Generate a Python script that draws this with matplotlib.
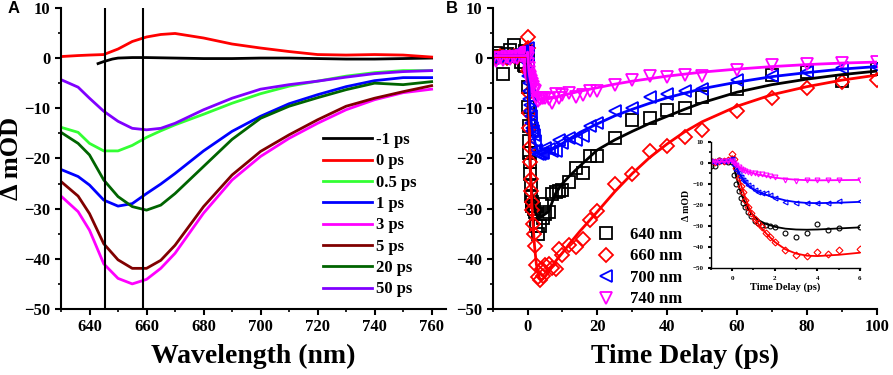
import numpy as np
import matplotlib
matplotlib.use("Agg")
import matplotlib.pyplot as plt
from matplotlib.ticker import MultipleLocator

plt.rcParams["font.family"] = "Liberation Serif"
plt.rcParams["font.weight"] = "bold"
plt.rcParams["axes.labelweight"] = "bold"

# ---- panel A: transient spectra ----
wl = [630, 636, 640, 645, 650, 655, 660, 665, 670, 680, 690, 700, 710, 720, 730, 740, 750, 760]
wl_m1 = [643, 645, 648, 650, 655, 660, 670, 680, 690, 700, 710, 720, 730, 740, 750, 760]
spec_m1 = [-1.1, -0.7, -0.2, 0.0, 0.1, 0.1, 0.0, -0.1, -0.1, 0.0, 0.0, -0.1, -0.2, -0.2, -0.1, 0.0]
spec_0 = [0.3, 0.5, 0.6, 0.7, 1.8, 3.3, 4.2, 4.7, 4.9, 4.0, 2.8, 2.0, 1.3, 0.7, 0.6, 0.7, 0.6, 0.2]
spec_05 = [-13.8, -14.8, -17.0, -18.5, -18.5, -17.4, -15.8, -14.5, -13.3, -11.2, -9.0, -7.1, -5.6, -4.6, -3.6, -2.9, -2.5, -2.5]
spec_1 = [-22.2, -23.6, -25.3, -28.3, -29.5, -29.0, -27.0, -25.1, -23.0, -18.5, -14.6, -11.6, -9.1, -7.3, -5.7, -4.5, -3.9, -3.9]
spec_3 = [-27.5, -30.6, -34.3, -41.0, -43.9, -45.0, -44.1, -41.9, -38.9, -30.9, -24.3, -19.6, -16.0, -13.0, -10.3, -8.3, -6.9, -6.2]
spec_5 = [-24.6, -27.5, -31.0, -37.0, -40.2, -41.9, -41.9, -40.3, -37.3, -29.6, -23.3, -18.6, -15.3, -12.3, -9.6, -8.0, -6.7, -5.5]
spec_20 = [-14.8, -17.0, -19.3, -24.3, -27.6, -29.6, -30.3, -29.3, -27.0, -21.6, -16.2, -12.0, -9.6, -7.9, -6.3, -5.0, -5.3, -4.7]
spec_50 = [-4.3, -5.8, -8.0, -10.6, -12.6, -14.0, -14.3, -14.0, -13.0, -10.3, -8.0, -6.2, -5.3, -4.6, -3.8, -3.1, -2.7, -2.5]
marker_wl = [645.3, 658.8]

# ---- panel B: kinetics ----
t_pts = [-10, -9, -8, -7, -6, -5, -4, -3, -2, -1, -0.8, -0.6, -0.4, -0.2,
         0, 0.1, 0.2, 0.3, 0.4, 0.5, 0.6, 0.75, 0.9, 1.05, 1.2, 1.4, 1.6, 1.8, 2,
         2.5, 3, 3.5, 4, 4.5, 5, 6, 7, 8, 9, 10, 12, 14, 16, 18, 20,
         25, 30, 35, 40, 45, 50, 60, 70, 80, 90, 100]
k640 = [0.5, 1.0, 0.3, -3.1, 0.8, 1.7, 2.7, 0.5, -0.7, -1.3, -1.5, 1.5, 1.0, 0.5,
        0.5, -5.8, -9.8, -13.5, -16.5, -19.0, -20.8, -23.2, -25.2, -27.5, -28.7, -29.5, -29.5, -30.0, -30.6,
        -33.4, -35.0, -33.4, -29.0, -31.8, -31.0, -30.6, -27.0, -26.6, -26.5, -26.3, -24.6, -22.0, -23.0, -19.5, -19.5,
        -16.0, -12.4, -12.0, -10.3, -10.0, -7.7, -6.2, -3.3, -2.7, -4.5, -2.2]
k660 = [0.3, 0.0, 0.5, 0.2, 0.0, 0.3, 0.5, 0.2, 0.8, 1.0, 0.5, 0.8, 1.0, 1.5,
        4.2, 2.0, -2.6, -7.0, -11.0, -14.0, -17.7, -20.8, -24.0, -26.4, -28.7, -30.3, -33.1, -35.0, -37.4,
        -41.3, -43.7, -44.2, -42.1, -43.4, -41.3, -41.0, -41.8, -42.0, -38.1, -39.3, -37.3, -37.6, -36.0, -32.3, -30.4,
        -25.0, -23.1, -18.6, -17.6, -15.8, -14.4, -10.6, -7.9, -6.0, -4.7, -4.3]
k700 = [0.0, 0.3, 0.5, 0.0, 0.5, 0.3, 0.8, 0.5, 0.5, 1.0, 0.5, 1.0, 0.8, 1.2,
        2.0, -1.0, -3.5, -5.0, -6.5, -8.2, -9.3, -10.5, -11.5, -13.0, -13.9, -14.5, -14.5, -15.3, -16.5,
        -18.4, -19.2, -19.2, -18.9, -18.9, -18.0, -18.1, -18.6, -18.6, -16.3, -17.0, -16.0, -16.3, -15.5, -13.6, -13.0,
        -10.6, -10.0, -7.7, -7.1, -6.6, -6.2, -4.3, -3.5, -2.7, -2.0, -1.7]
k740 = [0.0, -0.5, 0.0, -0.3, 0.2, -0.2, 0.3, 0.0, 0.5, 0.3, 0.5, 0.8, 1.0, 1.0,
        0.8, 0.0, -1.2, -1.9, -2.8, -3.3, -3.7, -4.2, -4.6, -4.9, -5.1, -5.5, -5.8, -6.3, -6.6,
        -7.9, -8.5, -8.2, -7.9, -7.9, -7.9, -8.2, -9.0, -7.1, -8.0, -7.3, -7.0, -7.8, -7.3, -6.6, -6.6,
        -5.3, -4.3, -3.5, -3.8, -3.3, -3.5, -2.3, -1.3, -1.1, -0.9, -0.7]

t_fit = [-10, -1, -0.5, -0.1, 0, 0.2, 0.4, 0.6, 0.8, 1.0, 1.3, 1.6, 2.0, 2.5, 3, 3.5, 4, 5, 6,
         8, 10, 12, 15, 20, 25, 30, 35, 40, 45, 50, 60, 70, 80, 90, 100]
fit640 = [0.5, 0.5, 0.5, 1.0, 1.5, -7.0, -14.0, -19.0, -22.5, -25.0, -27.5, -29.0, -30.3, -31.2, -31.6, -31.7, -31.6, -31.1, -30.6,
          -27.0, -25.0, -23.5, -21.5, -18.3, -16.3, -14.6, -13.0, -11.6, -10.2, -8.9, -6.8, -5.3, -4.2, -3.3, -2.6]
fit660 = [0.3, 0.3, 0.3, 0.5, 3.2, -2.0, -10.0, -16.0, -21.5, -25.5, -30.0, -33.5, -37.5, -41.0, -43.0, -44.0, -44.2, -43.6, -42.6,
          -40.5, -38.8, -37.0, -34.5, -30.6, -26.6, -23.0, -19.8, -17.1, -14.7, -12.7, -9.6, -7.3, -5.7, -4.4, -3.4]
fit700 = [0.5, 0.5, 0.5, 0.8, 2.5, -2.5, -6.0, -9.0, -11.0, -12.5, -14.0, -15.2, -16.5, -17.8, -18.6, -19.0, -19.1, -18.9, -18.5,
          -17.8, -17.0, -16.1, -14.8, -13.1, -11.5, -10.2, -9.0, -7.9, -7.0, -6.1, -4.8, -3.7, -2.9, -2.2, -1.7]
fit740 = [0.5, 0.5, 0.5, 0.8, 1.2, -0.8, -2.5, -3.6, -4.4, -5.0, -5.7, -6.3, -7.0, -7.6, -8.0, -8.2, -8.3, -8.2, -8.1,
          -7.8, -7.4, -7.1, -6.6, -5.9, -5.2, -4.6, -4.1, -3.6, -3.2, -2.8, -2.2, -1.7, -1.3, -1.0, -0.8]

fig = plt.figure(figsize=(8.93, 3.75), dpi=100)
axA = fig.add_axes([0.0683, 0.176, 0.431, 0.803])
axB = fig.add_axes([0.5517, 0.176, 0.430, 0.803])
axI = fig.add_axes([0.796, 0.2845, 0.167, 0.3375])


def style(ax, fs=12, major=4, minor=2.5):
    for s in ["top", "right"]:
        ax.spines[s].set_visible(False)
    for s in ["left", "bottom"]:
        ax.spines[s].set_linewidth(1.5)
    ax.tick_params(which="major", direction="out", length=major, width=1.5, labelsize=fs)
    ax.tick_params(which="minor", direction="out", length=minor, width=1.2)
    for lab in ax.get_xticklabels() + ax.get_yticklabels():
        lab.set_fontweight("bold")


# panel A
spectra = [
    (wl_m1, spec_m1, "black", "-1 ps"),
    (wl, spec_0, "#ff0000", "0 ps"),
    (wl, spec_05, "#33ff33", "0.5 ps"),
    (wl, spec_1, "#0000ff", "1 ps"),
    (wl, spec_3, "#ff00ff", "3 ps"),
    (wl, spec_5, "#800000", "5 ps"),
    (wl, spec_20, "#006400", "20 ps"),
    (wl, spec_50, "#8000ff", "50 ps"),
]
for x, y, c, lab in spectra:
    axA.plot(x, y, color=c, lw=2, label=lab)
for w in marker_wl:
    axA.axvline(w, color="black", lw=1.5)
axA.set_xlim(630, 765)
axA.set_ylim(-50, 10)
axA.xaxis.set_minor_locator(MultipleLocator(10))
axA.yaxis.set_major_locator(MultipleLocator(10))
axA.yaxis.set_minor_locator(MultipleLocator(5))
axA.set_xticks([640, 660, 680, 700, 720, 740, 760])
style(axA)
axA.set_xlabel("Wavelength (nm)", fontsize=20, labelpad=6)
axA.set_ylabel("Δ mOD", fontsize=19, family=["Liberation Serif", "DejaVu Sans"])
axA.yaxis.set_label_coords(-0.098, 0.5)
axA.legend(loc="upper left", bbox_to_anchor=(0.66, 0.615), frameon=False,
           handlelength=2.9, handletextpad=0.25, labelspacing=0.32, borderpad=0,
           prop={"weight": "bold", "size": 12})

# panel B
series = [
    (k640, fit640, "black", "s", "o", "640 nm"),
    (k660, fit660, "#ff0000", "D", "D", "660 nm"),
    (k700, fit700, "#0000ff", "<", "<", "700 nm"),
    (k740, fit740, "#ff00ff", "v", "v", "740 nm"),
]
for k, f, c, m, mi, lab in series:
    axB.plot(t_pts, k, ls="none", marker=m, ms=8 if m != "D" else 7, mfc="none", mec=c, mew=1.3, label=lab)
for k, f, c, m, mi, lab in series:
    axB.plot(t_fit, f, color=c, lw=2)
axB.set_xlim(-10, 100)
axB.set_ylim(-50, 10)
axB.xaxis.set_major_locator(MultipleLocator(20))
axB.xaxis.set_minor_locator(MultipleLocator(10))
axB.yaxis.set_major_locator(MultipleLocator(10))
axB.yaxis.set_minor_locator(MultipleLocator(5))
style(axB)
axB.set_xlabel("Time Delay (ps)", fontsize=20, labelpad=6)
axB.legend(loc="upper left", bbox_to_anchor=(0.239, 0.30), frameon=False,
           handlelength=1.6, handletextpad=0.65, labelspacing=0.33, borderpad=0,
           prop={"weight": "bold", "size": 12})

# inset
for k, f, c, m, mi, lab in series:
    tt = [t for t in t_pts if -1 <= t <= 6]
    kk = [v for t, v in zip(t_pts, k) if -1 <= t <= 6]
    axI.plot(tt, kk, ls="none", marker=mi, ms=3.5, mfc="none", mec=c, mew=0.8)
    tf = [t for t in t_fit if -1 <= t <= 6]
    ff = [v for t, v in zip(t_fit, f) if -1 <= t <= 6]
    axI.plot([-1] + tf, [f[0]] + ff, color=c, lw=1.3)
axI.set_xlim(-1, 6)
axI.set_ylim(-50, 10)
axI.xaxis.set_major_locator(MultipleLocator(2))
axI.xaxis.set_minor_locator(MultipleLocator(1))
axI.yaxis.set_major_locator(MultipleLocator(10))
axI.yaxis.set_minor_locator(MultipleLocator(5))
style(axI, fs=5, major=2, minor=1.2)
for s in ["left", "bottom"]:
    axI.spines[s].set_linewidth(1.0)
axI.patch.set_alpha(0)
axI.set_xlabel("Time Delay (ps)", fontsize=7.5, labelpad=1)
axI.set_ylabel("Δ mOD", fontsize=7, labelpad=1, family=["Liberation Serif", "DejaVu Sans"])

fig.text(0.008, 0.965, "A", fontsize=12, fontweight="bold", family="Liberation Sans")
fig.text(0.499, 0.965, "B", fontsize=12, fontweight="bold", family="Liberation Sans")

fig.savefig("out.png", dpi=100)
